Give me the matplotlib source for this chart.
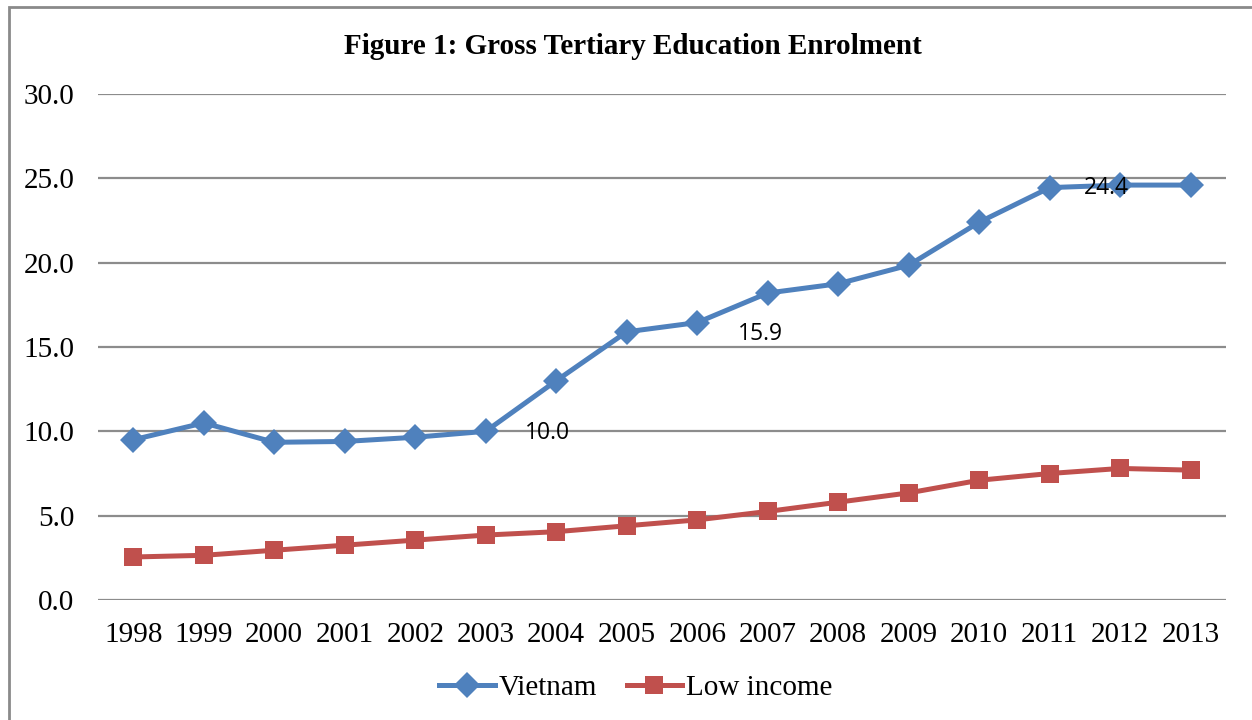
import matplotlib
matplotlib.use("Agg")
import matplotlib.pyplot as plt
from matplotlib.patches import Rectangle

years = ["1998", "1999", "2000", "2001", "2002", "2003", "2004", "2005",
         "2006", "2007", "2008", "2009", "2010", "2011", "2012", "2013"]
vietnam = [9.5, 10.5, 9.35, 9.4, 9.65, 10.0, 13.0, 15.9, 16.45, 18.2, 18.75,
           19.85, 22.4, 24.45, 24.6, 24.6]
low_income = [2.55, 2.65, 2.95, 3.25, 3.55, 3.85, 4.05, 4.4, 4.75, 5.25, 5.8,
              6.35, 7.1, 7.5, 7.8, 7.7]
label_texts = ["10.0", "15.9", "24.4"]
label_years = ["2004", "2007", "2012"]
label_levels = [9.9, 15.75, 24.4]
yticks = [0, 5, 10, 15, 20, 25, 30]

serif = ["Liberation Serif", "DejaVu Serif"]

fig = plt.figure(figsize=(12.52, 7.2), dpi=100)
ax = fig.add_axes([98/1252, 1-600/720, (1226-98)/1252, (600-94)/720])

x = list(range(len(years)))
blue = "#4F81BD"
red = "#C0504D"
ax.plot(x, vietnam, color=blue, lw=3.6, marker="D", markersize=13,
        markeredgewidth=0, label="Vietnam", zorder=3)
ax.plot(x, low_income, color=red, lw=3.6, marker="s", markersize=13,
        markeredgewidth=0, label="Low income", zorder=3)

offsets = [-0.12, -0.1, -0.2]
for t, yr, lv, off in zip(label_texts, label_years, label_levels, offsets):
    ax.text(years.index(yr) + off, lv, t, ha="center", va="center",
            fontsize=16.5, family=["Open Sans", "DejaVu Sans"], color="black", zorder=4)

ax.set_xlim(-0.5, len(years) - 0.5)
ax.set_ylim(0, 30)
ax.set_yticks(yticks)
ax.set_yticklabels([f"{v:.1f}" for v in yticks], family=serif, fontsize=21)
ax.set_xticks(x)
ax.set_xticklabels(years, family=serif, fontsize=21)
ax.tick_params(axis="both", length=0)
ax.tick_params(axis="y", pad=17)
ax.tick_params(axis="x", pad=16)
for s in ax.spines.values():
    s.set_visible(False)
ax.grid(axis="y", color="#8c8c8c", lw=1.6)
ax.set_axisbelow(True)

fig.text(633/1252, 1-46/720, "Figure 1: Gross Tertiary Education Enrolment",
         ha="center", va="center", family=serif, fontweight="bold", fontsize=21)

leg = fig.legend(loc="center", bbox_to_anchor=(636/1252, 1-688/720), ncol=2,
                 frameon=False, prop={"family": serif, "size": 21},
                 handlelength=1.9, handletextpad=0.15, columnspacing=1.0)

fig.patches.append(Rectangle((9/1252, -0.1), 1.2, 1 - 7/720 + 0.1,
                             transform=fig.transFigure, fill=False,
                             edgecolor="#8a8a8a", lw=2, figure=fig))

fig.savefig("out.png", dpi=100, facecolor="white")
